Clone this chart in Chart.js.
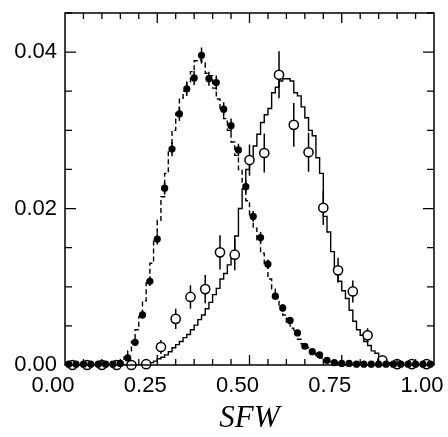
<!DOCTYPE html>
<html>
<head>
<meta charset="utf-8">
<script src="https://cdn.jsdelivr.net/npm/chart.js@4.4.1/dist/chart.umd.min.js"></script>
<style>
  html, body { margin: 0; padding: 0; background: #fff; }
  #wrap { width: 448px; height: 437px; }
</style>
</head>
<body>
<div id="wrap"><canvas id="sfwChart" width="448" height="437"></canvas></div>
<script>
// histogram bins are 0.01 wide, from 0.00 to 1.00
const binWidth = 0.01;

// dashed histogram (left distribution)
const dashedHist = [
  0, 0, 0, 0, 0, 0, 0, 0, 0, 0,
  0, 0, 0, 0, 0, 0.0002, 0.0005, 0.0010, 0.0018, 0.0030,
  0.0045, 0.0062, 0.0082, 0.0105, 0.0130, 0.0160, 0.0185, 0.0215, 0.0245, 0.0275,
  0.0300, 0.0322, 0.0341, 0.0350, 0.0362, 0.0375, 0.0389, 0.0390, 0.0386, 0.0373,
  0.0370, 0.0354, 0.0340, 0.0325, 0.0315, 0.0300, 0.0285, 0.0268, 0.0250, 0.0230,
  0.0210, 0.0192, 0.0175, 0.0160, 0.0143, 0.0126, 0.0110, 0.0097, 0.0085, 0.0074,
  0.0064, 0.0055, 0.0047, 0.0040, 0.0033, 0.0027, 0.0022, 0.0018, 0.0015, 0.0012,
  0.0009, 0.0007, 0.0005, 0.0004, 0.0003, 0.0002, 0.0001, 0.0001, 0.0001, 0.0001,
  0, 0, 0, 0, 0, 0, 0, 0, 0, 0,
  0, 0, 0, 0, 0, 0, 0, 0, 0, 0
];

// solid histogram (right distribution)
const solidHist = [
  0, 0, 0, 0, 0, 0, 0, 0, 0, 0,
  0, 0, 0, 0, 0, 0, 0, 0, 0, 0,
  0, 0, 0.0001, 0.0002, 0.0003, 0.0005, 0.0008, 0.0010, 0.0013, 0.0017,
  0.0022, 0.0026, 0.0030, 0.0035, 0.0039, 0.0045, 0.0051, 0.0058, 0.0064, 0.0072,
  0.0080, 0.0090, 0.0098, 0.0110, 0.0117, 0.0128, 0.0140, 0.0165, 0.0200, 0.0225,
  0.0250, 0.0265, 0.0280, 0.0295, 0.0310, 0.0320, 0.0328, 0.0348, 0.0355, 0.0363,
  0.0366, 0.0366, 0.0363, 0.0348, 0.0344, 0.0330, 0.0316, 0.0300, 0.0293, 0.0265,
  0.0245, 0.0190, 0.0170, 0.0145, 0.0124, 0.0107, 0.0095, 0.0085, 0.0070, 0.0056,
  0.0045, 0.0038, 0.0030, 0.0025, 0.0018, 0.0015, 0.0008, 0.0006, 0.0003, 0.0002,
  0.0001, 0.0001, 0, 0, 0, 0, 0, 0, 0, 0
];

// filled points (every 0.02, centred at 0.01, 0.03, ...)
const filledX = [
  0.01, 0.03, 0.05, 0.07, 0.09, 0.11, 0.13, 0.15, 0.17, 0.19,
  0.21, 0.23, 0.25, 0.27, 0.29, 0.31, 0.33, 0.35, 0.37, 0.39,
  0.41, 0.43, 0.45, 0.47, 0.49, 0.51, 0.53, 0.55, 0.57, 0.59,
  0.61, 0.63, 0.65, 0.67, 0.69, 0.71, 0.73, 0.75, 0.77, 0.79,
  0.81, 0.83, 0.85, 0.87, 0.89, 0.91, 0.93, 0.95, 0.97, 0.99
];
const filledY = [
  0.0001, 0.0001, 0.0001, 0.0001, 0.0001, 0.0001, 0.0001, 0.0002, 0.0009, 0.0029,
  0.0064, 0.0107, 0.0161, 0.0226, 0.0276, 0.0321, 0.0353, 0.0367, 0.0396, 0.0366,
  0.0361, 0.0327, 0.0306, 0.0275, 0.0228, 0.0190, 0.0163, 0.0129, 0.0088, 0.0073,
  0.0057, 0.0041, 0.0024, 0.0017, 0.0013, 0.0006, 0.0003, 0.0002, 0.0002, 0.0001,
  0.0001, 0.0001, 0.0001, 0.0001, 0.0001, 0.0001, 0.0001, 0.0001, 0.0001, 0.0001
];
const filledErr = [
  0.0002, 0.0002, 0.0002, 0.0002, 0.0002, 0.0002, 0.0002, 0.0002, 0.0003, 0.0004,
  0.0005, 0.0006, 0.0007, 0.0008, 0.0009, 0.0009, 0.0009, 0.0009, 0.0010, 0.0009,
  0.0009, 0.0009, 0.0009, 0.0008, 0.0008, 0.0007, 0.0007, 0.0006, 0.0005, 0.0005,
  0.0004, 0.0004, 0.0003, 0.0003, 0.0002, 0.0002, 0.0002, 0.0002, 0.0002, 0.0002,
  0.0002, 0.0002, 0.0002, 0.0002, 0.0002, 0.0002, 0.0002, 0.0002, 0.0002, 0.0002
];

// open points (every 0.04)
const openX = [
  0.02, 0.06, 0.10, 0.14, 0.18, 0.22, 0.26, 0.30, 0.34, 0.38,
  0.42, 0.46, 0.50, 0.54, 0.58, 0.62, 0.66, 0.70, 0.74, 0.78,
  0.82, 0.86, 0.90, 0.94, 0.98
];
const openY = [
  0.0000, 0.0000, 0.0000, 0.0000, 0.0000, 0.0001, 0.0023, 0.0059, 0.0087, 0.0097,
  0.0144, 0.0141, 0.0262, 0.0271, 0.0371, 0.0307, 0.0272, 0.0201, 0.0121, 0.0094,
  0.0038, 0.0006, 0.0001, 0.0001, 0.0001
];
const openErr = [
  0.0002, 0.0002, 0.0002, 0.0002, 0.0002, 0.0003, 0.0009, 0.0013, 0.0015, 0.0018,
  0.0022, 0.0020, 0.0020, 0.0025, 0.0030, 0.0028, 0.0025, 0.0022, 0.0016, 0.0014,
  0.0009, 0.0004, 0.0002, 0.0002, 0.0002
];

const xTickLabels = [0, 0.25, 0.5, 0.75, 1.0];
const yTickLabels = [0, 0.02, 0.04];

// bin edges -> stepped line points (last edge repeats the last value)
function histPoints(vals) {
  const pts = vals.map((v, i) => ({ x: i * binWidth, y: v }));
  pts.push({ x: vals.length * binWidth, y: vals[vals.length - 1] });
  return pts;
}
const pairUp = (xs, ys) => xs.map((x, i) => ({ x: x, y: ys[i] }));

// vertical error bars, drawn under the markers
const errorBars = {
  id: 'errorBars',
  beforeDatasetsDraw(chart) {
    const { ctx, scales: { x, y } } = chart;
    ctx.save();
    ctx.strokeStyle = '#000';
    ctx.lineWidth = 1.5;
    ctx.beginPath();
    [[filledX, filledY, filledErr], [openX, openY, openErr]].forEach(([xs, ys, es]) => {
      xs.forEach((xv, i) => {
        const px = x.getPixelForValue(xv);
        ctx.moveTo(px, y.getPixelForValue(Math.max(0, ys[i] - es[i])));
        ctx.lineTo(px, y.getPixelForValue(ys[i] + es[i]));
      });
    });
    ctx.stroke();
    ctx.restore();
  }
};

// frame plus inward ticks on all four sides
const frameTicks = {
  id: 'frameTicks',
  afterDraw(chart) {
    const { ctx, chartArea: a, scales: { x, y } } = chart;
    ctx.save();
    ctx.strokeStyle = '#000';
    ctx.lineWidth = 1.5;
    ctx.strokeRect(a.left, a.top, a.right - a.left, a.bottom - a.top);
    ctx.lineWidth = 1.3;
    ctx.beginPath();
    for (let k = 1; k < 20; k++) {
      const px = x.getPixelForValue(k * 0.05);
      const len = k % 5 === 0 ? 10 : 6;
      ctx.moveTo(px, a.bottom); ctx.lineTo(px, a.bottom - len);
      ctx.moveTo(px, a.top); ctx.lineTo(px, a.top + len);
    }
    for (let k = 1; k <= 9; k++) {
      const py = y.getPixelForValue(k * 0.005);
      const len = k % 4 === 0 ? 11 : 7;
      ctx.moveTo(a.left, py); ctx.lineTo(a.left + len, py);
      ctx.moveTo(a.right, py); ctx.lineTo(a.right - len, py);
    }
    ctx.stroke();
    ctx.restore();
  }
};

const tickFont = { family: "'Liberation Sans', Arial, sans-serif", size: 22 };

const ctx = document.getElementById('sfwChart').getContext('2d');
const sfwChart = new Chart(ctx, {
  type: 'line',
  data: {
    datasets: [
      {
        label: 'filled',
        data: pairUp(filledX, filledY),
        showLine: false,
        pointRadius: 3.6,
        pointBackgroundColor: '#000',
        pointBorderWidth: 0,
        clip: false
      },
      {
        label: 'open',
        data: pairUp(openX, openY),
        showLine: false,
        pointRadius: 4.6,
        pointBackgroundColor: '#fff',
        pointBorderColor: '#000',
        pointBorderWidth: 1.5,
        clip: false
      },
      {
        label: 'dashed',
        data: histPoints(dashedHist),
        stepped: 'after',
        borderColor: '#000',
        borderWidth: 1.4,
        borderDash: [5, 3],
        pointRadius: 0,
        fill: false
      },
      {
        label: 'solid',
        data: histPoints(solidHist),
        stepped: 'after',
        borderColor: '#000',
        borderWidth: 1.4,
        pointRadius: 0,
        fill: false
      }
    ]
  },
  options: {
    responsive: false,
    animation: false,
    events: [],
    layout: { padding: { top: 13, right: 14, left: 0, bottom: 0 } },
    plugins: {
      legend: { display: false },
      tooltip: { enabled: false }
    },
    scales: {
      x: {
        type: 'linear',
        min: 0,
        max: 1,
        grid: { display: false, drawTicks: false },
        border: { display: false },
        afterBuildTicks: (s) => { s.ticks = xTickLabels.map(v => ({ value: v })); },
        afterFit: (s) => {
          s.height = 72;
          s.paddingLeft = 0; s.paddingRight = 0;
        },
        ticks: {
          color: '#000',
          font: tickFont,
          padding: 8,
          labelOffset: -12,
          maxRotation: 0,
          callback: (v) => Number(v).toFixed(2)
        },
        title: {
          display: true,
          text: 'SFW',
          color: '#000',
          font: { family: "'Liberation Serif', 'Times New Roman', serif", size: 31, style: 'italic' },
          padding: { top: 4, bottom: 0 }
        }
      },
      y: {
        min: 0,
        max: 0.045,
        grid: { display: false, drawTicks: false },
        border: { display: false },
        afterBuildTicks: (s) => { s.ticks = yTickLabels.map(v => ({ value: v })); },
        afterFit: (s) => {
          s.width = 65;
          s.paddingTop = 0; s.paddingBottom = 0;
        },
        ticks: {
          color: '#000',
          font: tickFont,
          padding: 8,
          callback: (v) => Number(v).toFixed(2)
        }
      }
    }
  },
  plugins: [errorBars, frameTicks]
});
</script>
</body>
</html>
